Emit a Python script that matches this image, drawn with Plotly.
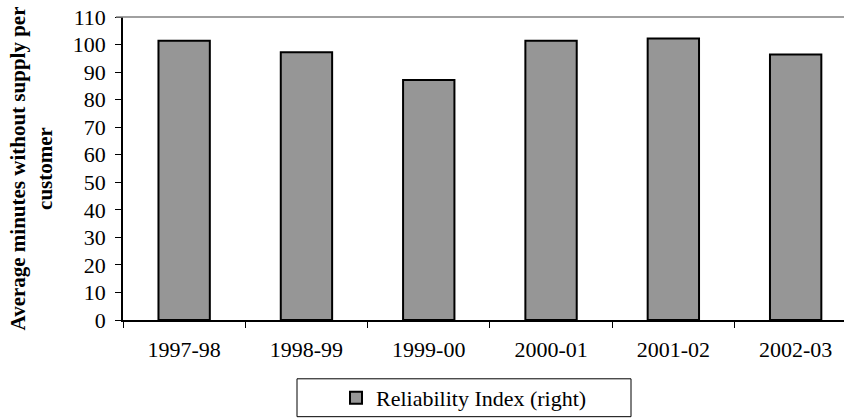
import plotly.graph_objects as go

# Reliability index by financial year
years = ["1997-98", "1998-99", "1999-00", "2000-01", "2001-02", "2002-03"]
minutes = [101.4, 97.2, 87.1, 101.4, 102.2, 96.4]
y_ticks = list(range(0, 111, 10))

W, H = 844, 419
ML, MR, MT, MB = 123, 0, 17, 98
plot_w = W - ML - MR
plot_h = H - MT - MB

serif = "Liberation Serif"

fig = go.Figure()
fig.add_trace(go.Bar(
    x=years,
    y=minutes,
    name="Reliability Index (right)",
    width=0.42,
    marker=dict(color="#969696", line=dict(color="#000000", width=2)),
))

# category spacing ~122 px; the last category runs past the right edge
cat_px = 122.3
x_hi = -0.5 + plot_w / cat_px

fig.update_layout(
    width=W, height=H,
    margin=dict(l=ML, r=MR, t=MT, b=MB, pad=0),
    paper_bgcolor="white",
    plot_bgcolor="white",
    font=dict(family=serif, size=22, color="#000000"),
    showlegend=True,
    legend=dict(
        orientation="h",
        x=(336 - ML) / plot_w, xanchor="left",
        y=-(399 - (MT + plot_h)) / plot_h, yanchor="middle",
        bgcolor="rgba(0,0,0,0)",
        font=dict(family=serif, size=22),
        itemwidth=30,
    ),
    xaxis=dict(
        type="category",
        range=[-0.5, x_hi],
        showline=True, linecolor="#000000", linewidth=1.5,
        ticks="outside", tickson="boundaries", ticklen=6, tickwidth=1,
        tickcolor="#000000",
        ticklabelstandoff=9,
        tickfont=dict(family=serif, size=22),
        showgrid=False, zeroline=False,
    ),
    yaxis=dict(
        range=[0, 110],
        tickvals=y_ticks,
        showline=True, linecolor="#000000", linewidth=1.5,
        ticks="outside", ticklen=6, tickwidth=1, tickcolor="#000000",
        ticklabelstandoff=5,
        tickfont=dict(family=serif, size=22),
        showgrid=False, zeroline=False,
        title=dict(
            text="<b>Average minutes without supply per<br>customer</b>",
            font=dict(family=serif, size=21),
            standoff=14,
        ),
    ),
    shapes=[
        # top border line of the plot area
        dict(type="line", xref="paper", yref="paper",
             x0=-7 / plot_w, x1=1, y0=1, y1=1,
             line=dict(color="#808080", width=1.5)),
        # legend frame
        dict(type="rect", xref="paper", yref="paper",
             x0=(297 - ML) / plot_w, x1=(631 - ML) / plot_w,
             y0=-(380 - (MT + plot_h)) / plot_h,
             y1=-(418 - (MT + plot_h)) / plot_h,
             line=dict(color="#000000", width=1), fillcolor="rgba(0,0,0,0)"),
    ],
)

fig.write_html("out.html")
